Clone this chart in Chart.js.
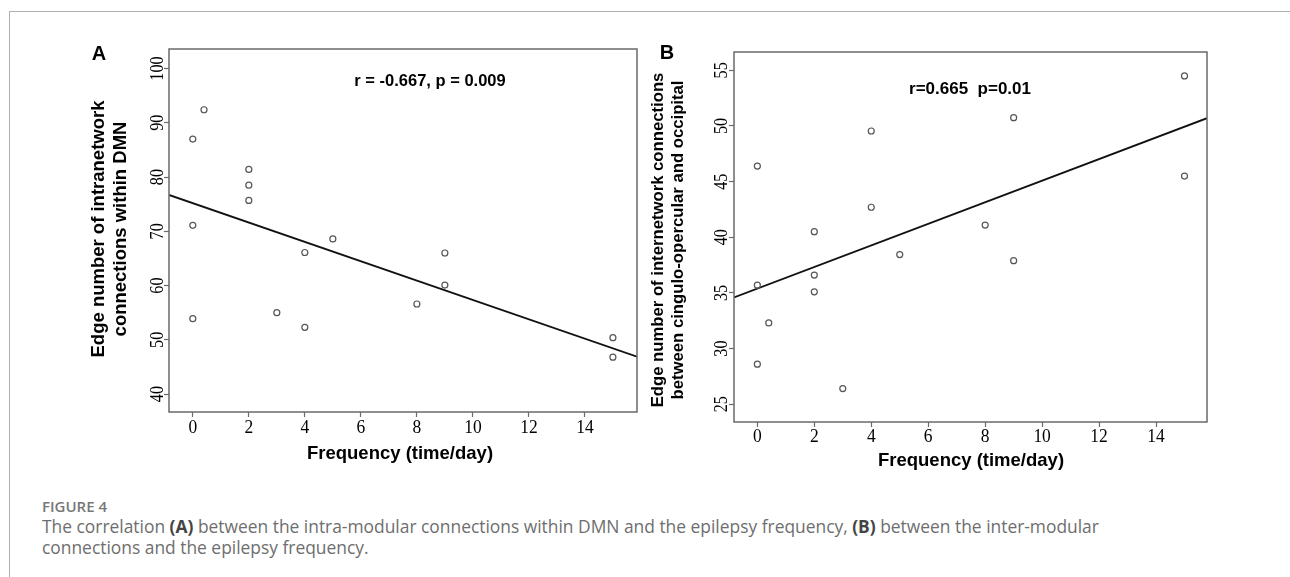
<!DOCTYPE html>
<html>
<head>
<meta charset="utf-8">
<script src="https://cdn.jsdelivr.net/npm/chart.js@4.4.0/dist/chart.umd.min.js"></script>
<style>
  body { margin: 0; width: 1290px; height: 577px; background: #fff; position: relative; overflow: hidden; }
  .frame { position: absolute; left: 9px; top: 11px; width: 1300px; height: 600px; border-left: 1px solid #b0b0b0; border-top: 1px solid #b0b0b0; }
  .panel { position: absolute; top: 0; width: 645px; height: 480px; }
  #panelA { left: 0; }
  #panelB { left: 645px; }
  .fig { position: absolute; left: 42px; top: 496px; font: 600 15px "Open Sans", sans-serif; color: #777; line-height: 20px; }
  .cap { position: absolute; left: 42px; top: 516px; font: 17.4px "Open Sans", sans-serif; color: #6e6e6e; line-height: 21px; white-space: nowrap; }
  .cap b { color: #444; }
</style>
</head>
<body>
<div class="frame"></div>
<div class="panel" id="panelA"><canvas id="chartA" width="645" height="480"></canvas></div>
<div class="panel" id="panelB"><canvas id="chartB" width="645" height="480"></canvas></div>
<div class="fig">FIGURE 4</div>
<div class="cap">The correlation <b>(A)</b> between the intra-modular connections within DMN and the epilepsy frequency, <b>(B)</b> between the inter-modular<br>connections and the epilepsy frequency.</div>

<script>
// Panel A: intranetwork connections within DMN vs frequency
const freqA = [0, 0.4, 2, 2, 2, 0, 4, 5, 0, 3, 4, 8, 9, 9, 15, 15];
const edgesA = [87, 92.4, 81.4, 78.5, 75.7, 71.1, 66.1, 68.6, 53.9, 55, 52.3, 56.6, 66, 60.1, 50.4, 46.8];
const fitA = [[-0.85, 76.7], [15.86, 46.9]];
const xTicksA = [0, 2, 4, 6, 8, 10, 12, 14];
const yTicksA = [40, 50, 60, 70, 80, 90, 100];

// Panel B: internetwork connections cingulo-opercular / occipital vs frequency
const freqB = [0, 4, 4, 2, 2, 2, 0, 0.4, 0, 3, 5, 8, 9, 9, 15, 15];
const edgesB = [46.4, 49.55, 42.7, 40.5, 36.6, 35.1, 35.7, 32.3, 28.6, 26.4, 38.45, 41.1, 37.9, 50.75, 54.5, 45.5];
const fitB = [[-0.82, 34.6], [15.79, 50.7]];
const xTicksB = [0, 2, 4, 6, 8, 10, 12, 14];
const yTicksB = [25, 30, 35, 40, 45, 50, 55];

function squeezed(ctx, text, x, y, angle, sx) {
    ctx.save();
    ctx.translate(x, y);
    ctx.rotate(angle);
    ctx.scale(sx, 1);
    ctx.fillText(text, 0, 0);
    ctx.restore();
}

// draws frame, tick labels, titles and the r/p note for one panel
function panelPlugin(p) {
    return {
        id: 'panel' + p.letter,
        afterDraw(chart) {
            const ctx = chart.ctx;
            const a = chart.chartArea;
            const xs = chart.scales.x, ys = chart.scales.y;
            ctx.save();
            ctx.strokeStyle = '#6a6a6a';
            ctx.lineWidth = 1.5;
            ctx.strokeRect(a.left, a.top, a.right - a.left, a.bottom - a.top);

            ctx.fillStyle = '#000';
            ctx.textAlign = 'center';
            ctx.textBaseline = 'middle';
            ctx.font = '19px "Liberation Serif", serif';
            p.xTicks.forEach(v => squeezed(ctx, String(v), xs.getPixelForValue(v), a.bottom + p.xTickGap, 0, 0.92));
            p.yTicks.forEach(v => squeezed(ctx, String(v), a.left - p.yTickGap, ys.getPixelForValue(v), -Math.PI / 2, 0.85));

            ctx.font = 'bold 20px "Liberation Sans", Arial, sans-serif';
            ctx.fillText(p.letter, p.letterX, p.letterY);

            ctx.font = 'bold 18.5px "Liberation Sans", Arial, sans-serif';
            ctx.fillText('Frequency (time/day)', p.xTitleX, p.xTitleY);
            ctx.font = 'bold ' + p.yTitleSize + 'px "Liberation Sans", Arial, sans-serif';
            p.yTitle.forEach((line, i) => squeezed(ctx, line, p.yTitleX[i], p.yTitleY, -Math.PI / 2, 1));

            ctx.font = 'bold ' + p.noteSize + 'px "Liberation Sans", Arial, sans-serif';
            ctx.fillText(p.note, p.noteX, p.noteY);
            ctx.restore();
        }
    };
}

function makeChart(id, p) {
    const toXY = (xs, ys) => xs.map((x, i) => ({ x: x, y: ys[i] }));
    return new Chart(document.getElementById(id), {
        type: 'scatter',
        data: {
            datasets: [{
                data: toXY(p.xs, p.ys),
                pointRadius: 3,
                pointBorderWidth: 1.2,
                pointBorderColor: '#555',
                pointBackgroundColor: 'rgba(0,0,0,0)'
            }, {
                data: p.fit.map(f => ({ x: f[0], y: f[1] })),
                showLine: true,
                borderColor: '#111',
                borderWidth: 1.8,
                pointRadius: 0
            }]
        },
        options: {
            responsive: false,
            animation: false,
            layout: { padding: p.padding },
            plugins: { legend: { display: false }, tooltip: { enabled: false } },
            scales: {
                x: {
                    min: p.xMin, max: p.xMax,
                    afterBuildTicks: s => { s.ticks = p.xTicks.map(v => ({ value: v })); },
                    afterFit: s => { s.height = p.xAxisH; },
                    ticks: { display: false },
                    border: { display: false },
                    grid: { drawOnChartArea: false, drawTicks: true, tickLength: 5, tickColor: '#6a6a6a', tickWidth: 1.2 }
                },
                y: {
                    min: p.yMin, max: p.yMax,
                    afterBuildTicks: s => { s.ticks = p.yTicks.map(v => ({ value: v })); },
                    afterFit: s => { s.width = p.yAxisW; },
                    ticks: { display: false },
                    border: { display: false },
                    grid: { drawOnChartArea: false, drawTicks: true, tickLength: 5, tickColor: '#6a6a6a', tickWidth: 1.2 }
                }
            }
        },
        plugins: [panelPlugin(p)]
    });
}

makeChart('chartA', {
    letter: 'A', letterX: 99, letterY: 54,
    xs: freqA, ys: edgesA, fit: fitA, xTicks: xTicksA, yTicks: yTicksA,
    xMin: -0.85, xMax: 15.86, yMin: 36.7, yMax: 103.6,
    padding: { top: 49, right: 8, bottom: 0, left: 0 }, xAxisH: 68, yAxisW: 169,
    xTickGap: 16.5, yTickGap: 11,
    xTitleX: 400, xTitleY: 454,
    yTitle: ['Edge number of intranetwork', 'connections within DMN'], yTitleSize: 18.5,
    yTitleX: [99, 121], yTitleY: 229,
    note: 'r = -0.667, p = 0.009', noteSize: 16.5, noteX: 430, noteY: 81
});

makeChart('chartB', {
    letter: 'B', letterX: 22, letterY: 53,
    xs: freqB, ys: edgesB, fit: fitB, xTicks: xTicksB, yTicks: yTicksB,
    xMin: -0.82, xMax: 15.79, yMin: 23.4, yMax: 56.65,
    padding: { top: 52, right: 83, bottom: 0, left: 0 }, xAxisH: 58, yAxisW: 89,
    xTickGap: 15.5, yTickGap: 12,
    xTitleX: 326, xTitleY: 461,
    yTitle: ['Edge number of internetwork connections', 'between cingulo-opercular and occipital'], yTitleSize: 16.7,
    yTitleX: [13.5, 33], yTitleY: 240,
    note: 'r=0.665  p=0.01', noteSize: 17, noteX: 325, noteY: 89
});
</script>
</body>
</html>
